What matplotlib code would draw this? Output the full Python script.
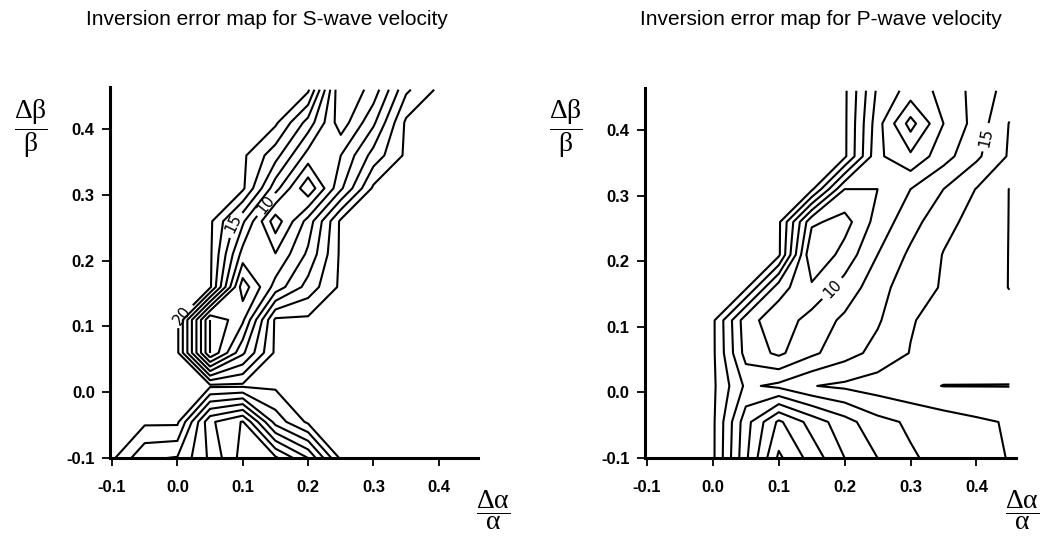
import numpy as np
import matplotlib
matplotlib.use("Agg")
import matplotlib.pyplot as plt

plt.rcParams['mathtext.fontset'] = 'stix'

# grid nodes (dα/α across, dβ/β up)
x_nodes = [-0.1, -0.05, 0.0, 0.05, 0.1, 0.15, 0.2, 0.25, 0.3, 0.35, 0.4, 0.45]
y_nodes = [-0.1, -0.045, 0.01, 0.06, 0.11, 0.16, 0.21, 0.26, 0.31, 0.36, 0.41, 0.46]

C = 20.5  # error above the top contour (clipped)

# inversion error (%), rows from bottom to top
s_err = [
    [C, 15.4, 14.8, 9.5, 4.0, 4.5, 10, C, C, C, C, C],
    [C, C, C, 8.0, 4.8, 16, C, C, C, C, C, C],
    [C, C, C, C, C, C, C, C, C, C, C, C],
    [C, C, C, 2.5, 12, C, C, C, C, C, C, C],
    [C, C, C, 2.5, 7, C, C, C, C, C, C, C],
    [C, C, C, C, 3.5, 11, 16, C, C, C, C, C],
    [C, C, C, C, 9, 7.6, 13, C, C, C, C, C],
    [C, C, C, C, 13, 3.5, 11, C, C, C, C, C],
    [C, C, C, C, C, 11, 3, 12, C, C, C, C],
    [C, C, C, C, C, 16, 9, 10, 16, C, C, C],
    [C, C, C, C, C, C, 14, 6, 12, C, C, C],
    [C, C, C, C, C, C, C, 5, 8.5, 17, C, C],
]

p_err = [
    [C, C, C, 10.5, 2.0, 6.0, 10.0, 12.5, 14.7, 15.8, 16.7, 17.6],
    [C, C, C, 11.0, 4.5, 8.5, 11.5, 14.2, 15.4, 16.3, 17.1, 17.7],
    [C, C, C, 14.5, 15.6, 17.4, 18.0, 18.7, 19.4, 20.05, 20.05, 20.05],
    [C, C, C, 11.5, 9.5, 12.0, 14.0, 15.8, 17.6, 18.6, 18.8, 19.0],
    [C, C, C, 11.0, 8.5, 11.0, 13.0, 14.7, 17.3, 18.5, 19.0, 19.3],
    [C, C, C, C, 11.0, 8.0, 11.0, 14.0, 16.5, 17.7, 19.0, 20.05],
    [C, C, C, C, C, 5.0, 8.5, 12.5, 15.5, 17.6, 18.8, 20.05],
    [C, C, C, C, C, 8.0, 6.5, 11.0, 14.0, 16.8, 18.3, 20.05],
    [C, C, C, C, C, C, 10.0, 10.0, 12.5, 15.0, 17.6, 20.05],
    [C, C, C, C, C, C, C, 10.5, 8.0, 11.5, 14.5, 17.8],
    [C, C, C, C, C, C, C, 11.0, 4.0, 10.0, 13.5, 17.6],
    [C, C, C, C, C, C, C, 12.0, 9.0, 10.5, 13.5, 16.0],
]

levels = [2.5, 5, 7.5, 10, 12.5, 15, 17.5, 20]
ticks = [-0.1, 0.0, 0.1, 0.2, 0.3, 0.4]
tick_labels = ["-0.1", "0.0", "0.1", "0.2", "0.3", "0.4"]

titles = ["Inversion error map for S-wave velocity",
          "Inversion error map for P-wave velocity"]
s_label_lv = [10, 15, 20]
s_label_at = [(0.13, 0.29), (0.086, 0.256), (0.0, 0.125)]
p_label_lv = [10, 15]
p_label_at = [(0.17, 0.17), (0.41, 0.39)]

fig = plt.figure(figsize=(10.56, 5.44), dpi=100)
ax1 = fig.add_axes([0.1042, 0.158, 0.3485, 0.682])
ax2 = fig.add_axes([0.6108, 0.158, 0.3513, 0.680])

panels = [(ax1, s_err, s_label_lv, s_label_at),
          (ax2, p_err, p_label_lv, p_label_at)]

for ax, z, lab_lv, lab_at in panels:
    z = np.array(z)
    rest = [lv for lv in levels if lv not in lab_lv]
    ax.contour(x_nodes, y_nodes, z, levels=rest, colors="black", linewidths=1.5)
    cs = ax.contour(x_nodes, y_nodes, z, levels=lab_lv, colors="black",
                    linewidths=1.5)
    ax.clabel(cs, manual=lab_at, inline=True, fmt="%d", fontsize=11)
    ax.set_xlim(-0.103, 0.46)
    ax.set_ylim(-0.1, 0.464)
    for s in ["top", "right"]:
        ax.spines[s].set_visible(False)
    for s in ["left", "bottom"]:
        ax.spines[s].set_linewidth(2.2)
    ax.set_xticks(ticks)
    ax.set_xticklabels(tick_labels)
    ax.set_yticks(ticks)
    ax.set_yticklabels(tick_labels)
    ax.tick_params(axis="x", direction="out", length=6, width=1.3, pad=10)
    ax.tick_params(axis="y", direction="out", length=6, width=1.3, pad=5)
    for t in ax.get_xticklabels() + ax.get_yticklabels():
        t.set_fontfamily("Liberation Sans")
        t.set_fontweight("bold")
        t.set_fontsize(12)

fig.text(0.253, 0.965, titles[0], ha="center", va="center",
         fontsize=15, family="Liberation Sans")
fig.text(0.777, 0.965, titles[1], ha="center", va="center",
         fontsize=15, family="Liberation Sans")

# axis fractions
for xb, xa in [(31, 493), (566, 1022)]:
    fig.text(xb / 1056, 1 - 129 / 544,
             r"$\dfrac{\mathregular{\Delta\beta}}{\mathregular{\beta}}$",
             ha="center", va="center", fontsize=20, family="Liberation Serif")
    fig.text(xa / 1056, 1 - 510 / 544,
             r"$\dfrac{\mathregular{\Delta\alpha}}{\mathregular{\alpha}}$",
             ha="center", va="center", fontsize=20, family="Liberation Serif")

fig.savefig("out.png", dpi=100)
